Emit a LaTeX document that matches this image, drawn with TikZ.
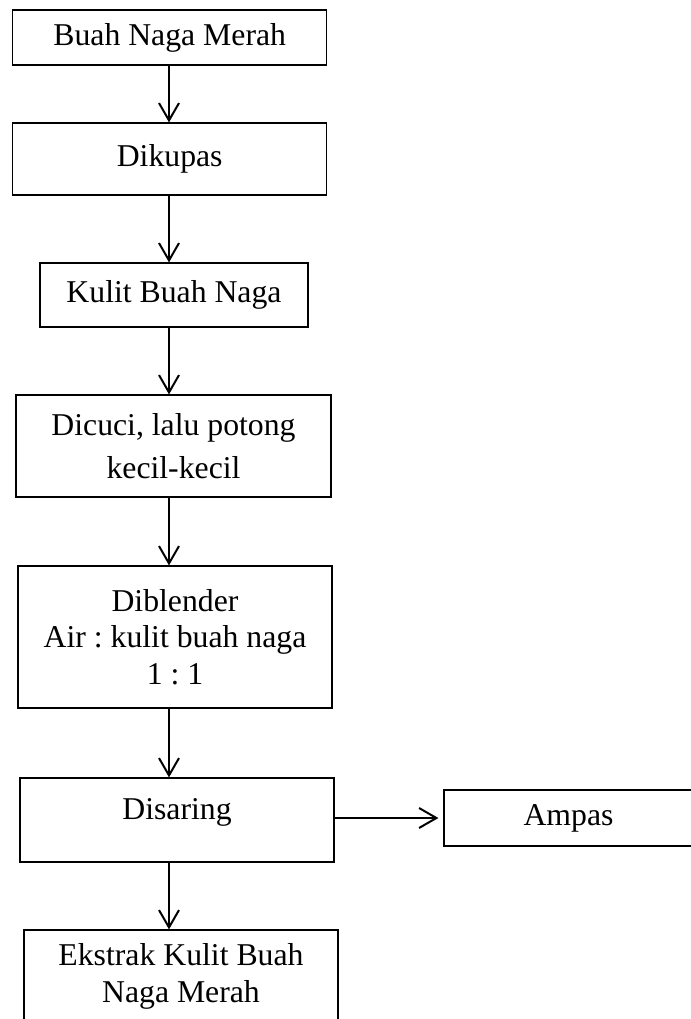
\documentclass[tikz,border=0pt]{standalone}
\usepackage{fontspec}
\setmainfont{Liberation Serif}
\usetikzlibrary{arrows.meta}
\tikzset{
  proses/.style={draw, line width=0.9pt, align=center, inner sep=0pt,
    font=\fontsize{23.8}{27.5}\selectfont\frenchspacing},
  panah/.style={-{Straight Barb[length=13pt,width=15pt,line width=1.5pt]}, line width=1.5pt}
}
\begin{document}
\begin{tikzpicture}[x=0.75pt,y=-0.75pt]
\useasboundingbox (0,0) rectangle (691,1019);
%\draw[help lines] (0,0) grid[step=50] (691,1019);
\node[proses, minimum width=235.5pt, minimum height=41.25pt] (bnm) at (169.7,37.5) {Buah Naga Merah};
\node[proses, minimum width=235.5pt, minimum height=54pt] (kupas) at (169.7,159) {Dikupas};
\node[proses, minimum width=201pt, minimum height=48pt] (kulit) at (174,295) {Kulit Buah Naga};
\node[proses, minimum width=236.25pt, minimum height=76.5pt, font=\fontsize{23.8}{32}\selectfont] (cuci) at (173.5,446) {Dicuci, lalu potong\\kecil-kecil};
\node[proses, minimum width=235.5pt, minimum height=106.5pt] (blender) at (175,637) {Diblender\\Air : kulit buah naga\\1 : 1};
\node[proses, minimum width=235.5pt, minimum height=63pt, text depth=17pt] (saring) at (177,820) {Disaring};
\node[proses, minimum width=186.75pt, minimum height=42pt] (ampas) at (568.5,818) {Ampas};
\node[proses, minimum width=235.5pt, minimum height=69.75pt] (ekstrak) at (181,976.5) {Ekstrak Kulit Buah\\Naga Merah};
\coordinate (sumbu) at (169,0);
\draw[panah] (sumbu |- bnm.south) -- (sumbu |- kupas.north);
\draw[panah] (sumbu |- kupas.south) -- (sumbu |- kulit.north);
\draw[panah] (sumbu |- kulit.south) -- (sumbu |- cuci.north);
\draw[panah] (sumbu |- cuci.south) -- (sumbu |- blender.north);
\draw[panah] (sumbu |- blender.south) -- (sumbu |- saring.north);
\draw[panah] (sumbu |- saring.south) -- (sumbu |- ekstrak.north);
\draw[panah, shorten >=3.75pt] (saring.east |- ampas) -- (ampas.west);
\end{tikzpicture}
\end{document}
